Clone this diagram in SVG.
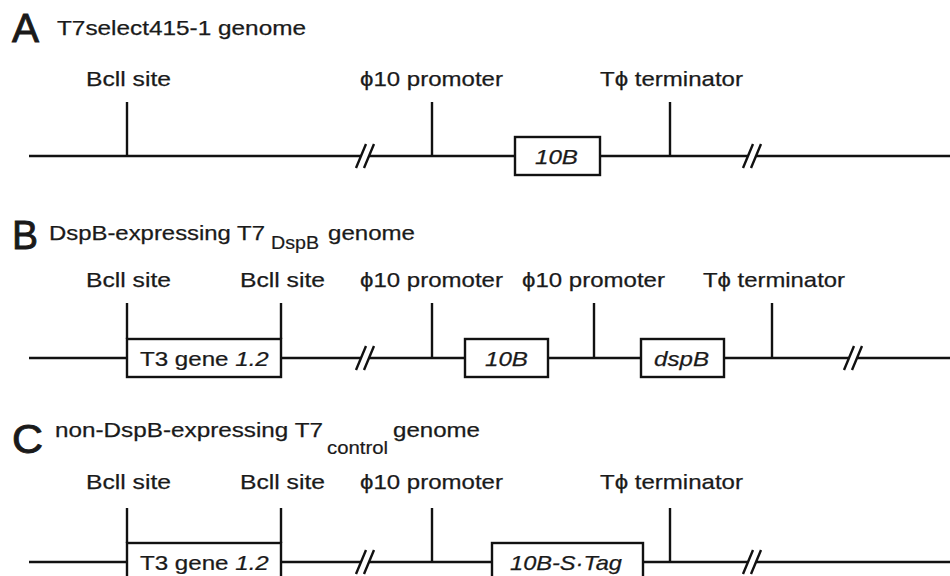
<svg xmlns="http://www.w3.org/2000/svg" width="950" height="576" viewBox="0 0 950 576">
<style>
text{font-family:"Liberation Sans",Arial,sans-serif;fill:#1a1a1a}
.big{font-size:40px;stroke:#1a1a1a;stroke-width:0.9}
.t{font-size:21px;stroke:#1a1a1a;stroke-width:0.25}
.sub{font-size:18px;stroke:#1a1a1a;stroke-width:0.2}
.it{font-style:italic}
.ln{stroke:#111;stroke-width:2.4;fill:none}
.box{stroke:#111;stroke-width:2.4;fill:#fff}
</style>
<rect width="950" height="576" fill="#fff"/>

<!-- Panel A -->
<g id="panelA-title">
<text class="big" x="12" y="42" textLength="27" lengthAdjust="spacingAndGlyphs">A</text>
<text class="t" x="57" y="35" textLength="249" lengthAdjust="spacingAndGlyphs">T7select415-1 genome</text>
</g>
<g id="connectorsA">
<path class="ln" d="M29 156H361M369 156H515M600 156H748M756 156H950"/>
<path class="ln" d="M356 168L366 144M364 168L374 144M743 168L753 144M751 168L761 144"/>
</g>
<g id="A-bcl1"><line class="ln" x1="127" y1="102" x2="127" y2="156"/><text class="t" x="86" y="86" textLength="85" lengthAdjust="spacingAndGlyphs">Bcll site</text></g>
<g id="A-prom"><line class="ln" x1="432" y1="102" x2="432" y2="156"/><text class="t" x="360" y="86" textLength="143" lengthAdjust="spacingAndGlyphs">ϕ10 promoter</text></g>
<g id="A-10B"><rect class="box" x="515" y="137" width="85" height="38"/><text class="t it" x="535" y="164" textLength="43" lengthAdjust="spacingAndGlyphs">10B</text></g>
<g id="A-term"><line class="ln" x1="670" y1="102" x2="670" y2="156"/><text class="t" x="600" y="86" textLength="143" lengthAdjust="spacingAndGlyphs">Tϕ terminator</text></g>

<!-- Panel B -->
<g id="panelB-title">
<text class="big" x="12" y="249" textLength="26" lengthAdjust="spacingAndGlyphs">B</text>
<text class="t" x="49" y="240" textLength="216" lengthAdjust="spacingAndGlyphs">DspB-expressing T7</text>
<text class="sub" x="271" y="249" textLength="48" lengthAdjust="spacingAndGlyphs">DspB</text>
<text class="t" x="328" y="240" textLength="87" lengthAdjust="spacingAndGlyphs">genome</text>
</g>
<g id="connectorsB">
<path class="ln" d="M29 358H127M281 358H361M369 358H465M548 358H641M724 358H849M857 358H950"/>
<path class="ln" d="M356 370L366 346M364 370L374 346M844 370L854 346M852 370L862 346"/>
</g>
<g id="B-t3">
<line class="ln" x1="127" y1="303" x2="127" y2="339"/><line class="ln" x1="281" y1="303" x2="281" y2="339"/>
<rect class="box" x="127" y="339" width="154" height="38"/>
<text class="t" transform="matrix(1.15 0 0 1 140 366)">T3 gene <tspan class="it">1.2</tspan></text>
<text class="t" x="86" y="287" textLength="85" lengthAdjust="spacingAndGlyphs">Bcll site</text>
<text class="t" x="240" y="287" textLength="85" lengthAdjust="spacingAndGlyphs">Bcll site</text>
</g>
<g id="B-prom1"><line class="ln" x1="432" y1="303" x2="432" y2="358"/><text class="t" x="360" y="287" textLength="143" lengthAdjust="spacingAndGlyphs">ϕ10 promoter</text></g>
<g id="B-10B"><rect class="box" x="465" y="339" width="83" height="38"/><text class="t it" x="485" y="366" textLength="43" lengthAdjust="spacingAndGlyphs">10B</text></g>
<g id="B-prom2"><line class="ln" x1="594" y1="303" x2="594" y2="358"/><text class="t" x="522" y="287" textLength="143" lengthAdjust="spacingAndGlyphs">ϕ10 promoter</text></g>
<g id="B-dspB"><rect class="box" x="641" y="339" width="83" height="38"/><text class="t it" x="654" y="366" textLength="55" lengthAdjust="spacingAndGlyphs">dspB</text></g>
<g id="B-term"><line class="ln" x1="772" y1="303" x2="772" y2="358"/><text class="t" x="703" y="287" textLength="142" lengthAdjust="spacingAndGlyphs">Tϕ terminator</text></g>

<!-- Panel C -->
<g id="panelC-title">
<text class="big" x="12" y="453" textLength="31" lengthAdjust="spacingAndGlyphs">C</text>
<text class="t" x="55" y="437" textLength="268" lengthAdjust="spacingAndGlyphs">non-DspB-expressing T7</text>
<text class="sub" x="327" y="454" textLength="61" lengthAdjust="spacingAndGlyphs">control</text>
<text class="t" x="393" y="437" textLength="87" lengthAdjust="spacingAndGlyphs">genome</text>
</g>
<g id="connectorsC">
<path class="ln" d="M29 562H127M281 562H361M369 562H492M643 562H748M756 562H950"/>
<path class="ln" d="M356 574L366 550M364 574L374 550M743 574L753 550M751 574L761 550"/>
</g>
<g id="C-t3">
<line class="ln" x1="127" y1="508" x2="127" y2="543"/><line class="ln" x1="281" y1="508" x2="281" y2="543"/>
<rect class="box" x="127" y="543" width="154" height="40"/>
<text class="t" transform="matrix(1.15 0 0 1 140 570)">T3 gene <tspan class="it">1.2</tspan></text>
<text class="t" x="86" y="489" textLength="85" lengthAdjust="spacingAndGlyphs">Bcll site</text>
<text class="t" x="240" y="489" textLength="85" lengthAdjust="spacingAndGlyphs">Bcll site</text>
</g>
<g id="C-prom"><line class="ln" x1="432" y1="508" x2="432" y2="562"/><text class="t" x="360" y="489" textLength="143" lengthAdjust="spacingAndGlyphs">ϕ10 promoter</text></g>
<g id="C-10BSTag"><rect class="box" x="492" y="543" width="151" height="40"/><text class="t it" x="510" y="570" textLength="112" lengthAdjust="spacingAndGlyphs">10B-S·Tag</text></g>
<g id="C-term"><line class="ln" x1="670" y1="508" x2="670" y2="562"/><text class="t" x="600" y="489" textLength="143" lengthAdjust="spacingAndGlyphs">Tϕ terminator</text></g>
</svg>
